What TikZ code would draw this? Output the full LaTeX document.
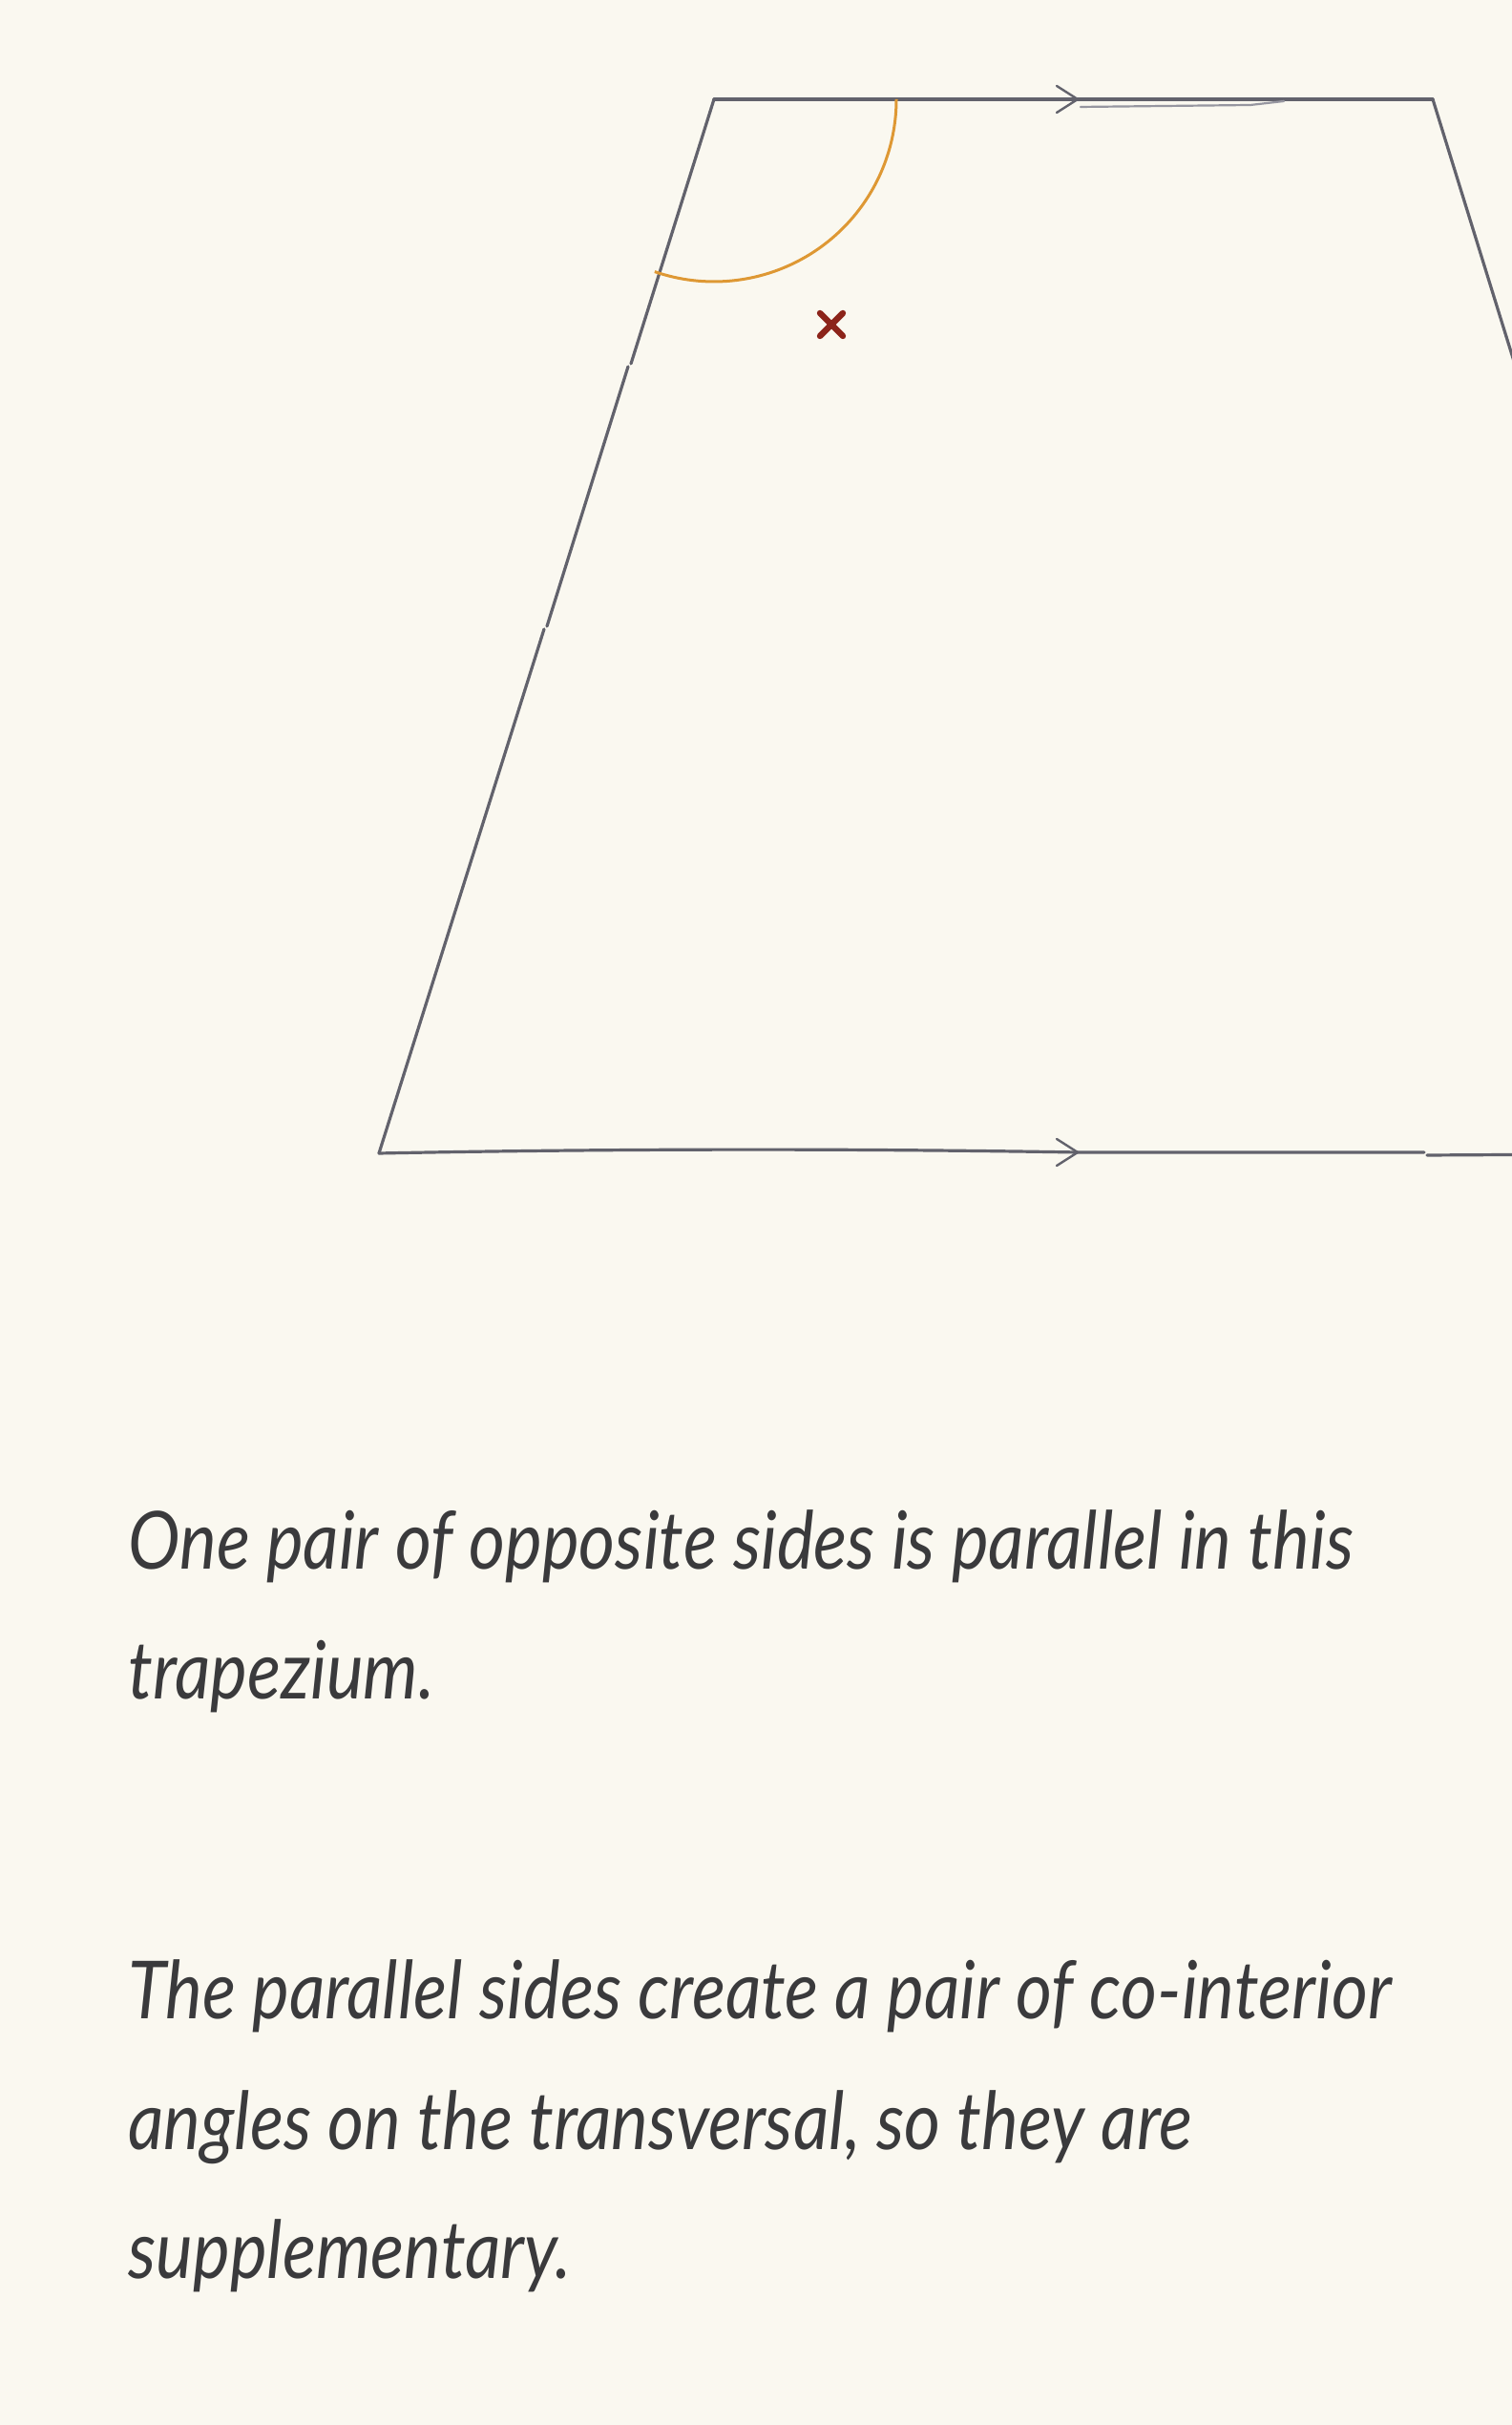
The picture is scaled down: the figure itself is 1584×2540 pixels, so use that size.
\documentclass[tikz,border=0pt]{standalone}
\usepackage{fontspec}
\usetikzlibrary{calc}
\newfontfamily\handfont{Lato}[FakeStretch=0.87]
\begin{document}
\begin{tikzpicture}[x=0.5pt,y=0.5pt]
\definecolor{paper}{RGB}{250,248,240}
\definecolor{pencil}{RGB}{98,98,108}
\definecolor{pencillight}{RGB}{150,150,160}
\definecolor{arcorange}{RGB}{222,152,52}
\definecolor{markred}{RGB}{140,36,26}
\definecolor{ink}{RGB}{58,58,60}
\tikzset{
  edge/.style={draw=pencil, line width=1.6pt, line cap=round, line join=round},
  faint/.style={draw=pencillight, line width=1.1pt, line cap=round},
  tick/.style={draw=pencil, line width=1.2pt, line cap=round, line join=round},
  anglearc/.style={draw=arcorange, line width=1.5pt},
  cross/.style={draw=markred, line width=3.2pt, line cap=round},
  txt/.style={anchor=base west, inner sep=0pt, text=ink,
    font=\handfont\itshape\fontsize{42}{50}\selectfont}
}
\useasboundingbox (0,0) rectangle (1584,2540);
\fill[paper] (0,0) rectangle (1584,2540);
\begin{scope}
\clip (0,0) rectangle (1584,2540);
% vertices
\coordinate (TL) at (748,2436);
\coordinate (TR) at (1501,2436);
\coordinate (BL) at (397,1332);
\coordinate (BR) at (1843,1332);
% left side pieces
\coordinate (L1) at (661,2159);
\coordinate (L1b) at (658,2156);
\coordinate (L2) at (573,1884);
\coordinate (L2b) at (570,1881);
% top edge
\draw[edge] (TL) -- (TR);
\coordinate (TA) at (1129,2436);
\draw[tick] ($(TA)+(-22,14)$) -- (TA) -- ($(TA)+(-22,-14)$);
\coordinate (TD1) at (1132,2428);
\coordinate (TD2) at (1310,2430);
\coordinate (TD3) at (1345,2434);
\draw[faint] (TD1) -- (TD2) -- (TD3);
% right side
\draw[edge] (TR) -- (BR);
% left side
\draw[edge] (TL) -- (L1);
\draw[edge] (L1b) -- (L2);
\draw[edge] (L2b) -- (BL);
% bottom edge
\coordinate (B3) at (1129,1333);
\coordinate (B4) at (1492,1333);
\coordinate (B5) at (1495,1330);
\draw[edge] (BL) .. controls (700,1338) and (950,1336) .. (B3) -- (B4);
\draw[edge] (B5) -- (BR);
\draw[tick] ($(B3)+(-22,14)$) -- (B3) -- ($(B3)+(-22,-14)$);
% angle arc at top-left vertex
\draw[anglearc] ($(TL)+(191,0)$) arc[start angle=0, end angle=-109, radius=191];
% cross mark
\coordinate (X) at (871,2200);
\draw[cross] ($(X)+(-12,12)$) -- ($(X)+(12,-12)$);
\draw[cross] ($(X)+(-12,-12)$) -- ($(X)+(12,12)$);
\end{scope}
% text
\node[txt] (l1) at (134,896) {One pair of opposite sides is parallel in this};
\node[txt] (l2) at (134,760) {trapezium.};
\node[txt] (l3) at (134,425) {The parallel sides create a pair of co-interior};
\node[txt] (l4) at (134,288) {angles on the transversal, so they are};
\node[txt] (l5) at (134,153) {supplementary.};
\end{tikzpicture}
\end{document}
